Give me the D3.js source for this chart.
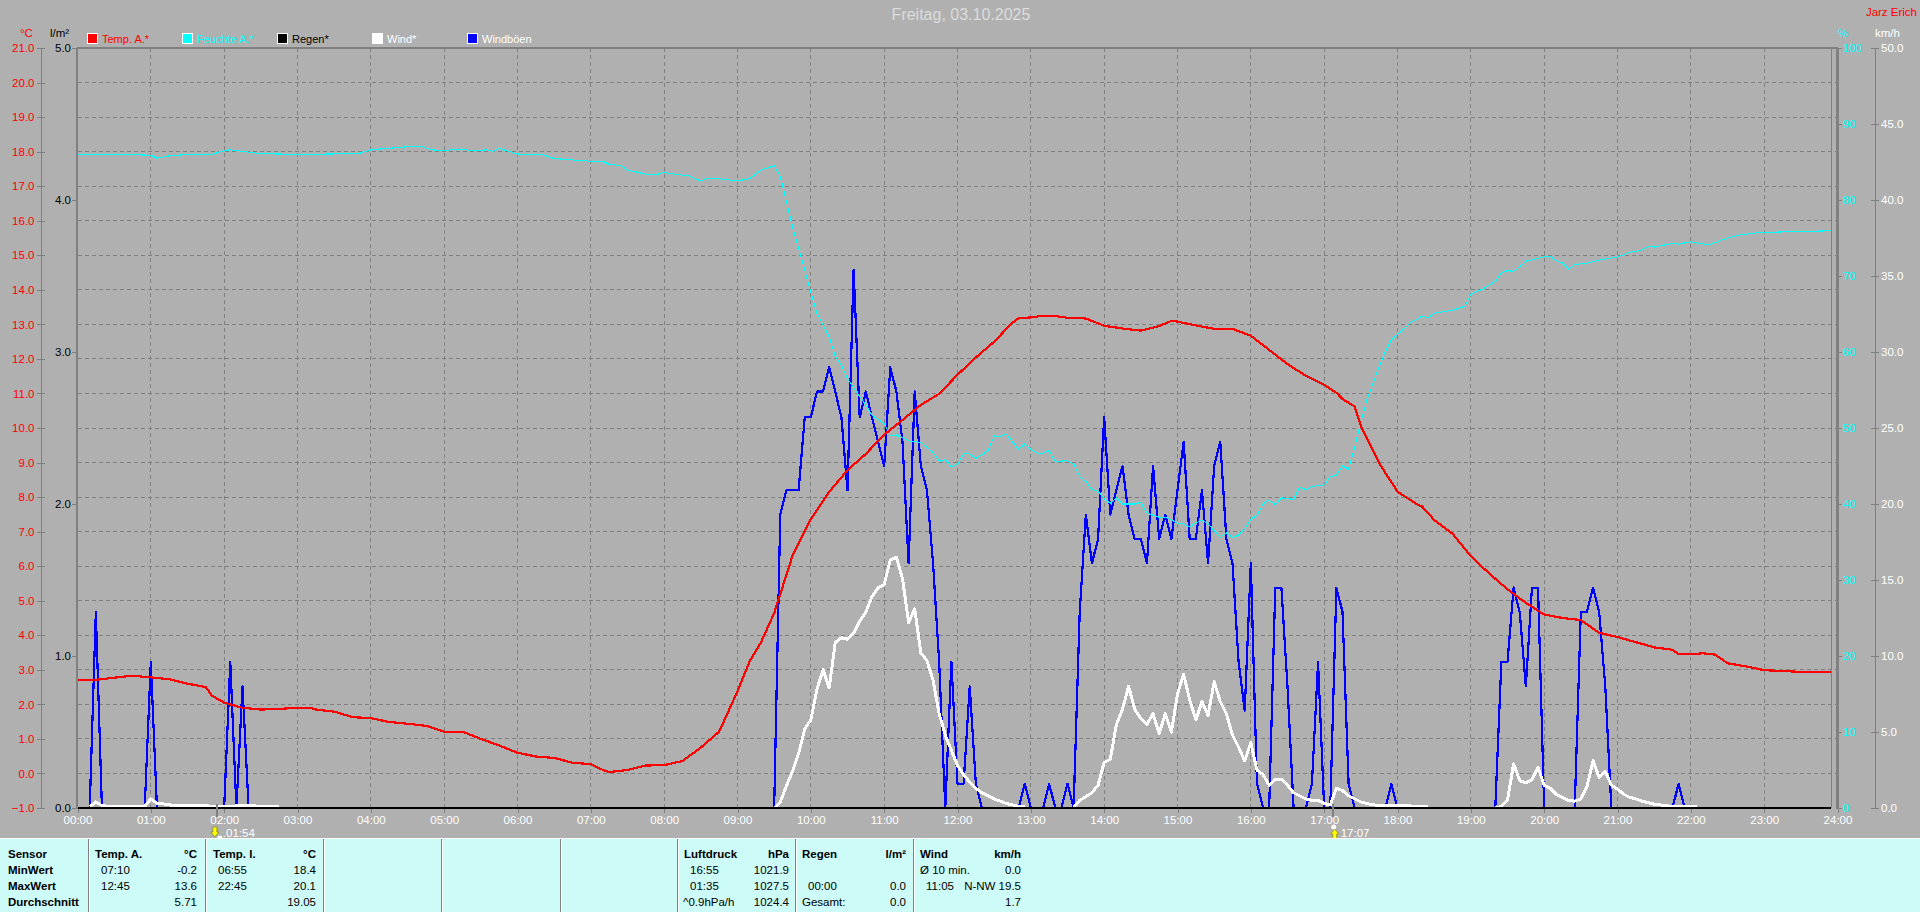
<!DOCTYPE html>
<html><head><meta charset="utf-8">
<script src="https://d3js.org/d3.v7.min.js"></script>
<style>
html,body{margin:0;padding:0;background:#b0b0b0;overflow:hidden}
svg{display:block}
text{font-family:"Liberation Sans",Arial,sans-serif;font-size:11.5px}
</style></head><body><div id="c"></div>
<script>
const title = "Freitag, 03.10.2025";
const author = "Jarz Erich";
const hourLabels = ["00:00","01:00","02:00","03:00","04:00","05:00","06:00","07:00","08:00","09:00","10:00","11:00","12:00","13:00","14:00","15:00","16:00","17:00","18:00","19:00","20:00","21:00","22:00","23:00","24:00"];
const tempTicks = [-1,0,1,2,3,4,5,6,7,8,9,10,11,12,13,14,15,16,17,18,19,20,21];
const rainTicks = [0,1,2,3,4,5];
const humTicks = [0,10,20,30,40,50,60,70,80,90,100];
const windTicks = [0,5,10,15,20,25,30,35,40,45,50];
const legendNames = ["Temp. A.*","Feuchte A.*","Regen*","Wind*","Windböen"];
const legendColors = ["#ff0000","#00ffff","#000000","#ffffff","#0000ff"];
const legendTextColors = ["#ff0000","#00ffff","#000000","#ffffff","#ffffff"];

const tempTimes = ["00:00","00:15","00:30","00:45","01:00","01:15","01:30","01:45","01:50","02:00","02:15","02:30","02:45","03:00","03:10","03:15","03:30","03:45","04:00","04:15","04:30","04:45","05:00","05:15","05:30","05:45","06:00","06:15","06:30","06:45","07:00","07:10","07:15","07:30","07:45","08:00","08:15","08:30","08:45","09:00","09:10","09:19","09:30","09:45","10:00","10:15","10:30","10:45","11:00","11:15","11:30","11:45","12:00","12:15","12:30","12:45","12:50","13:00","13:10","13:20","13:30","13:45","14:00","14:15","14:30","14:45","14:55","15:00","15:15","15:30","15:45","16:00","16:15","16:30","16:45","17:00","17:10","17:15","17:25","17:30","17:45","18:00","18:15","18:20","18:30","18:45","19:00","19:15","19:30","19:45","20:00","20:15","20:30","20:45","21:00","21:15","21:30","21:45","21:50","22:00","22:10","22:20","22:30","22:45","23:00","23:30","23:55"];
const tempValues = [2.71,2.71,2.77,2.83,2.78,2.73,2.6,2.5,2.25,2.05,1.9,1.85,1.87,1.9,1.9,1.85,1.79,1.63,1.6,1.49,1.44,1.38,1.21,1.21,1.0,0.81,0.6,0.49,0.45,0.31,0.27,0.1,0.04,0.1,0.23,0.24,0.36,0.75,1.21,2.38,3.25,3.78,4.64,6.3,7.36,8.15,8.78,9.25,9.81,10.23,10.67,10.99,11.54,12.04,12.5,13.05,13.18,13.2,13.25,13.24,13.19,13.17,12.96,12.88,12.82,12.95,13.1,13.08,12.97,12.87,12.87,12.67,12.26,11.85,11.51,11.25,11.02,10.84,10.62,10.06,8.98,8.16,7.81,7.73,7.34,6.94,6.29,5.79,5.33,4.94,4.6,4.5,4.44,4.07,3.95,3.8,3.65,3.58,3.45,3.45,3.48,3.44,3.19,3.1,2.99,2.94,2.94];

const humTimes = ["00:00","00:30","01:00","01:05","01:15","01:30","01:50","02:00","02:05","02:30","03:00","03:50","04:00","04:15","04:30","04:40","04:50","05:00","05:10","05:25","05:35","05:40","05:45","06:00","06:20","06:30","07:00","07:10","07:15","07:25","07:30","07:45","07:55","08:00","08:10","08:20","08:30","08:35","08:45","09:00","09:10","09:20","09:30","09:35","09:45","10:00","10:05","10:15","10:20","10:25","10:30","10:45","10:50","11:00","11:05","11:10","11:20","11:30","11:40","11:45","11:50","11:55","12:00","12:05","12:10","12:15","12:25","12:30","12:35","12:40","12:45","12:50","12:55","13:00","13:05","13:10","13:15","13:20","13:30","13:35","13:40","13:45","13:50","13:55","14:00","14:05","14:10","14:15","14:25","14:30","14:35","14:45","14:50","14:55","15:00","15:05","15:10","15:15","15:20","15:25","15:35","15:40","15:45","15:50","15:55","16:00","16:05","16:10","16:15","16:20","16:25","16:35","16:40","16:45","16:50","17:00","17:05","17:10","17:15","17:20","17:25","17:30","17:35","17:45","17:50","17:55","18:00","18:05","18:10","18:20","18:25","18:30","18:45","18:55","19:00","19:10","19:20","19:25","19:30","19:35","19:40","19:45","20:00","20:05","20:10","20:15","20:20","20:25","20:35","20:45","21:00","21:10","21:20","21:25","21:30","21:45","21:50","22:00","22:15","22:30","22:40","22:55","23:15","23:55"];
const humValues = [86,86,85.9,85.5,85.8,86,86,86.5,86.6,86.1,86,86.1,86.6,86.8,87,87.1,86.6,86.5,86.7,86.5,86.6,86.4,86.8,86.05,86,85.45,85.1,85.1,84.7,84.5,83.95,83.4,83.4,83.65,83.35,83.2,82.5,82.8,82.8,82.5,82.8,84,84.5,83.1,76.5,67.9,65.1,62,59.4,58.3,56.5,53,51.7,50.6,49,49.1,48.3,48.1,46.8,45.6,45.9,44.9,45.2,46.6,46.6,46,47,48.95,48.9,49.2,48.2,47.2,47.9,47.2,46.7,46.7,47,45.6,45.7,45.3,43.6,43,41.9,41.7,40.7,40.1,40.8,40,40,40.2,38.8,38.25,38.25,37.9,37.5,37.4,37,37.5,37.9,37.4,35.6,36.2,35.6,35.9,36.8,38,38.5,40,40.5,39.9,40.8,40.6,42.2,41.9,42.3,42.5,43.6,43.8,45,44.6,47.5,50.8,53.7,58.1,60,61.6,62.3,63,63.8,64.7,64.5,65.1,65.5,66,67.6,68.3,69.3,70.4,70.7,70.6,71.2,71.95,72.5,72.6,72,71.7,70.9,71.5,71.7,72.1,72.5,73.1,73.4,73.9,73.8,74.3,74.2,74.5,74.1,75,75.4,75.7,75.8,75.95];

const gustTimes = ["00:00","00:10","00:15","00:20","00:55","01:00","01:05","02:00","02:05","02:10","02:15","02:20","09:30","09:35","09:40","09:45","09:50","09:55","10:00","10:05","10:10","10:15","10:20","10:25","10:30","10:35","10:40","10:45","10:50","10:55","11:00","11:05","11:10","11:15","11:20","11:25","11:30","11:35","11:40","11:45","11:50","11:55","12:00","12:05","12:10","12:15","12:20","12:50","12:55","13:00","13:10","13:15","13:20","13:25","13:30","13:35","13:40","13:45","13:50","13:55","14:00","14:05","14:10","14:15","14:20","14:25","14:30","14:35","14:40","14:45","14:50","14:55","15:00","15:05","15:10","15:15","15:20","15:25","15:30","15:35","15:40","15:45","15:50","15:55","16:00","16:05","16:10","16:15","16:20","16:25","16:30","16:35","16:45","16:50","16:55","17:00","17:05","17:10","17:15","17:20","17:25","17:50","17:55","18:00","19:20","19:25","19:30","19:35","19:40","19:45","19:50","19:55","20:00","20:25","20:30","20:35","20:40","20:45","20:50","20:55","21:45","21:50","21:55","23:55"];
const gustValues = [0,0,12.9,0,0,9.6,0,0,9.6,0,8,0,0,19.3,20.9,20.9,20.9,25.7,25.7,27.4,27.4,29,27.4,25.7,20.9,35.4,25.7,27.4,25.7,24.1,22.5,29,27.4,24.1,16.1,27.4,22.5,20.9,16.1,9.6,0,9.6,1.6,1.6,8,1.6,0,0,1.6,0,0,1.6,0,0,1.6,0,12.9,19.3,16.1,17.7,25.7,19.3,20.9,22.5,19.3,17.7,17.7,16.1,22.5,17.7,19.3,17.7,20.9,24.1,17.7,17.7,20.9,16.1,22.5,24.1,17.7,16.1,9.6,6.4,16.1,1.6,0,0,14.5,14.5,8,0,0,1.6,9.6,0,0,14.5,12.9,1.6,0,0,1.6,0,0,9.6,9.6,14.5,12.9,8,14.5,14.5,0,0,12.9,12.9,14.5,12.9,8,0,0,1.6,0,0];

const windTimes = ["00:10","00:15","00:20","00:25","00:55","01:00","01:05","01:10","01:20","02:05","02:15","02:45","03:00","09:30","09:35","09:40","09:45","09:50","09:55","10:00","10:05","10:10","10:15","10:20","10:25","10:30","10:35","10:40","10:45","10:50","10:55","11:00","11:05","11:10","11:15","11:20","11:25","11:30","11:35","11:40","11:45","11:50","11:55","12:00","12:05","12:10","12:15","12:20","12:25","12:30","12:35","12:40","12:45","12:50","12:55","13:00","13:35","13:40","13:45","13:50","13:55","14:00","14:05","14:10","14:15","14:20","14:25","14:30","14:35","14:40","14:45","14:50","14:55","15:00","15:05","15:10","15:15","15:20","15:25","15:30","15:35","15:40","15:45","15:50","15:55","16:00","16:05","16:10","16:15","16:20","16:25","16:30","16:35","16:40","16:45","16:50","16:55","17:00","17:05","17:10","17:15","17:20","17:25","17:30","17:35","17:40","18:25","18:30","19:20","19:25","19:30","19:35","19:40","19:45","19:50","19:55","20:00","20:05","20:10","20:15","20:20","20:25","20:30","20:35","20:40","20:45","20:50","20:55","21:00","21:05","21:10","21:15","21:20","21:25","21:30","21:35","21:40","21:45","22:05","22:10"];
const windValues = [0.1,0.4,0.16,0.12,0.1,0.6,0.3,0.27,0.15,0.12,0.15,0.1,null,0,0.4,1.45,2.4,3.6,5.2,5.8,7.8,9.1,7.9,10.9,11.2,11.1,11.5,12.3,12.9,13.9,14.5,14.7,16.3,16.5,15.1,12.2,13.1,10.2,9.7,8.4,6.2,4.8,3.8,2.8,2.2,1.7,1.3,1,0.8,0.6,0.45,0.3,0.2,0.1,0.08,null,0.05,0.5,0.75,1,1.5,3,3.2,5.5,6.5,8,6.5,5.9,5.5,6.2,4.9,6.2,5,7.5,8.8,7.1,5.8,7,6.1,8.3,7,6.2,4.8,4,3.1,4.3,2.5,2.2,1.5,1.9,1.9,1.5,1,0.8,0.6,0.5,0.5,0.3,0.2,1.3,1.15,0.8,0.6,0.4,0.3,0.2,0.1,null,0.02,0.1,0.5,2.9,1.8,1.65,1.85,2.7,1.5,1.3,0.9,0.7,0.5,0.45,0.6,1.4,3.1,2,2.4,1.5,1.25,0.9,0.7,0.6,0.45,0.35,0.25,0.2,0.15,0.1,0.1,null];

const rainTimes = ["00:00","23:55"];
const rainValues = [0,0];

const markers = [{t:"01:54",label:".01:54"},{t:"17:07",label:"17:07"}];
const panelX = [88,205,323,441,560,677,795,913];
const panelRows = [
 [8,"Sensor",1,"start"],[8,"MinWert",1,"start"],[8,"MaxWert",1,"start"],[8,"Durchschnitt",1,"start"]];
const panelCells = [
 [95,0,"Temp. A.",1,"start"],[197,0,"°C",1,"end"],[101,1,"07:10",0,"start"],[197,1,"-0.2",0,"end"],[101,2,"12:45",0,"start"],[197,2,"13.6",0,"end"],[197,3,"5.71",0,"end"],
 [213,0,"Temp. I.",1,"start"],[316,0,"°C",1,"end"],[218,1,"06:55",0,"start"],[316,1,"18.4",0,"end"],[218,2,"22:45",0,"start"],[316,2,"20.1",0,"end"],[316,3,"19.05",0,"end"],
 [684,0,"Luftdruck",1,"start"],[789,0,"hPa",1,"end"],[690,1,"16:55",0,"start"],[789,1,"1021.9",0,"end"],[690,2,"01:35",0,"start"],[789,2,"1027.5",0,"end"],[683,3,"^0.9hPa/h",0,"start"],[789,3,"1024.4",0,"end"],
 [802,0,"Regen",1,"start"],[906,0,"l/m²",1,"end"],[808,2,"00:00",0,"start"],[906,2,"0.0",0,"end"],[802,3,"Gesamt:",0,"start"],[906,3,"0.0",0,"end"],
 [920,0,"Wind",1,"start"],[1021,0,"km/h",1,"end"],[920,1,"Ø 10 min.",0,"start"],[1021,1,"0.0",0,"end"],[926,2,"11:05",0,"start"],[1021,2,"N-NW 19.5",0,"end"],[1021,3,"1.7",0,"end"]];

const W=1920,H=912,L=77.5,R=1837.5,T=48,B=808;
const toH=s=>{const p=s.split(":");return +p[0]+p[1]/60};
const x=d3.scaleLinear().domain([0,24]).range([L,R]);
const yT=d3.scaleLinear().domain([-1,21]).range([B,T]);
const yR=d3.scaleLinear().domain([0,5]).range([B,T]);
const yH=d3.scaleLinear().domain([0,100]).range([B,T]);
const yW=d3.scaleLinear().domain([0,50]).range([B,T]);

const svg=d3.select("#c").append("svg").attr("width",W).attr("height",H);
svg.append("rect").attr("width",W).attr("height",H).attr("fill","#b0b0b0");

// grid
const grid=svg.append("g").attr("stroke","#808080").attr("stroke-dasharray","4,3").attr("shape-rendering","crispEdges");
grid.selectAll("line.h").data(tempTicks.slice(1,-1)).join("line").attr("x1",L).attr("x2",R).attr("y1",d=>yT(d)).attr("y2",d=>yT(d));
grid.selectAll("line.v").data(d3.range(1,24)).join("line").attr("x1",d=>x(d)).attr("x2",d=>x(d)).attr("y1",T).attr("y2",B);

// frame
const frame=svg.append("g").attr("stroke","#808080").attr("shape-rendering","crispEdges");
frame.append("line").attr("x1",L-1).attr("x2",R).attr("y1",T).attr("y2",T).attr("stroke-width",2);
frame.append("line").attr("x1",L-0.5).attr("x2",L-0.5).attr("y1",T).attr("y2",B+1).attr("stroke-width",2);
frame.append("line").attr("x1",R-0.5).attr("x2",R-0.5).attr("y1",T).attr("y2",B+1).attr("stroke-width",2);
frame.append("line").attr("x1",x(toH("23:55"))).attr("x2",x(toH("23:55"))).attr("y1",T).attr("y2",B);

// axes built with d3.axis
function styleAxis(g,color,lineColor){
 g.select(".domain").attr("stroke",lineColor).attr("shape-rendering","crispEdges");
 g.selectAll(".tick line").attr("stroke",lineColor).attr("shape-rendering","crispEdges");
 g.selectAll(".tick text").attr("fill",color).attr("font-family",null).attr("font-size",null);
}
const axT=svg.append("g").attr("transform","translate(40.5,0)")
 .call(d3.axisLeft(yT).tickValues(tempTicks).tickFormat(d3.format(".1f")).tickSize(4).tickSizeOuter(0).tickPadding(2));
styleAxis(axT,"#ff0000","#808080");
axT.selectAll(".tick line").attr("x2",4).attr("x1",-4);
axT.selectAll(".tick text").attr("x",-6);
const axR=svg.append("g").attr("transform","translate(77,0)")
 .call(d3.axisLeft(yR).tickValues(rainTicks).tickFormat(d3.format(".1f")).tickSize(5).tickSizeOuter(0).tickPadding(1));
styleAxis(axR,"#000000","#808080");
const axH=svg.append("g").attr("transform","translate(1838,0)")
 .call(d3.axisRight(yH).tickValues(humTicks).tickSize(4).tickSizeOuter(0).tickPadding(1));
styleAxis(axH,"#00ffff","#808080");
const axW=svg.append("g").attr("transform","translate(1874.5,0)")
 .call(d3.axisRight(yW).tickValues(windTicks).tickFormat(d3.format(".1f")).tickSize(4).tickSizeOuter(0).tickPadding(2));
styleAxis(axW,"#ffffff","#808080");
axW.selectAll(".tick line").attr("x1",-4).attr("x2",4);
axW.selectAll(".tick text").attr("x",6.5);
const axX=svg.append("g").attr("transform",`translate(0,${B})`)
 .call(d3.axisBottom(x).tickValues(d3.range(0,25)).tickFormat(d=>hourLabels[d]).tickSize(5).tickSizeOuter(0).tickPadding(3));
styleAxis(axX,"#ffffff","#808080");
axX.select(".domain").remove();

// series
function draw(times,values,scale,color,width,crisp){
 const data=times.map((t,i)=>({h:toH(t),v:values[i]}));
 const line=d3.line().defined(d=>d.v!==null).x(d=>x(d.h)).y(d=>scale(d.v));
 svg.append("path").datum(data).attr("d",line).attr("fill","none").attr("stroke",color)
   .attr("stroke-width",width).attr("shape-rendering",crisp?"crispEdges":"auto").attr("stroke-linejoin","round");
}
draw(gustTimes,gustValues,yW,"#0000ff",2.2,true);
draw(windTimes,windValues,yW,"#ffffff",3,true);
draw(rainTimes,rainValues,yR,"#000000",2,true);
draw(humTimes,humValues,yH,"#00ffff",1.1,true);
draw(tempTimes,tempValues,yT,"#ff0000",2.2,true);

// sun rise/set markers
markers.forEach((m,i)=>{
 const mx=x(toH(m.t));
 svg.append("line").attr("x1",mx).attr("x2",mx).attr("y1",B-4).attr("y2",B+9).attr("stroke","#808080").attr("stroke-width",2).attr("shape-rendering","crispEdges");
 const g=svg.append("g").attr("transform",`translate(${mx+(i===0?-2:2)},833)`);
 const p=i===0?"M-2,-6H2V-1H4L0,4L-4,-1H-2Z":"M-2,6H2V1H4L0,-4L-4,1H-2Z";
 g.append("path").attr("d",p).attr("fill","#ffff00").attr("stroke","#606000").attr("stroke-width",.5);
 g.append("circle").attr("cx",i===0?5:-1).attr("cy",i===0?5:-6).attr("r",2.5).attr("fill","#ffffff");
 svg.append("text").attr("x",mx+(i===0?6:8)).attr("y",837).attr("fill","#ffffff").text(m.label);
});

// header text
svg.append("text").attr("x",961).attr("y",20).attr("text-anchor","middle").attr("fill","#dcdcdc").style("font-size","16px").text(title);
svg.append("text").attr("x",1917).attr("y",16).attr("text-anchor","end").attr("fill","#ff0000").text(author);
svg.append("text").attr("x",20).attr("y",37).attr("fill","#ff0000").text("°C");
svg.append("text").attr("x",50).attr("y",37).attr("fill","#000000").text("l/m²");
svg.append("text").attr("x",1838).attr("y",37).attr("fill","#00ffff").text("%");
svg.append("text").attr("x",1875).attr("y",37).attr("fill","#ffffff").text("km/h");

// legend
const lg=svg.append("g").selectAll("g").data(legendNames).join("g").attr("transform",(d,i)=>`translate(${87+i*95},33)`);
lg.append("rect").attr("x",.5).attr("y",.5).attr("width",10).attr("height",10).attr("fill",(d,i)=>legendColors[i]).attr("stroke","#ffffff").attr("shape-rendering","crispEdges");
lg.append("text").attr("x",15).attr("y",9.5).attr("fill",(d,i)=>legendTextColors[i]).style("font-size","11px").text(d=>d);

// bottom panel
svg.append("rect").attr("x",0).attr("y",839).attr("width",W).attr("height",H-839).attr("fill","#ccfbf8");
svg.append("line").attr("x1",0).attr("x2",W).attr("y1",838.5).attr("y2",838.5).attr("stroke","#ffffff");
panelX.forEach(px=>{
 svg.append("rect").attr("x",px).attr("y",839).attr("width",1).attr("height",73).attr("fill","#808080");
 svg.append("rect").attr("x",px+1).attr("y",839).attr("width",1).attr("height",73).attr("fill","#ffffff");
});
const rowY=[858,874,890,906];
panelRows.forEach((r,i)=>{
 svg.append("text").attr("x",r[0]).attr("y",rowY[i]).attr("font-weight","bold").attr("fill","#000").text(r[1]);
});
panelCells.forEach(c=>{
 svg.append("text").attr("x",c[0]).attr("y",rowY[c[1]]).attr("text-anchor",c[4]).attr("font-weight",c[3]?"bold":"normal").attr("fill","#000").text(c[2]);
});
</script></body></html>
